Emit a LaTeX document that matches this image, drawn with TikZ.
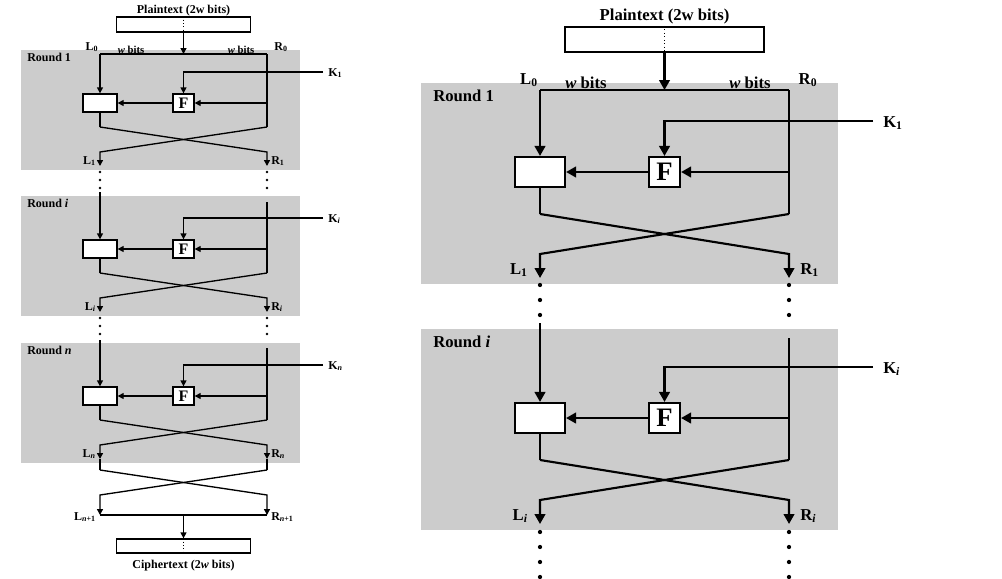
\documentclass[tikz,border=0pt]{standalone}
\usepackage{fontspec}
\setmainfont{Liberation Serif}
\usetikzlibrary{arrows.meta}
\definecolor{roundgray}{RGB}{204,204,204}
\begin{document}
\begin{tikzpicture}[x=0.75pt,y=-0.75pt,
  lline/.style={line width=1pt},
  rline/.style={line width=1.6pt},
  larr/.style={lline,-{Triangle[length=4.5pt,width=4.5pt]}},
  rarr/.style={rline,-{Triangle[length=7.5pt,width=8pt]}},
  lfont/.style={font=\fontsize{9}{10}\selectfont\bfseries,inner sep=0pt},
  lsmall/.style={font=\fontsize{8}{9}\selectfont\bfseries,inner sep=0pt},
  rfont/.style={font=\fontsize{12.5}{14}\selectfont\bfseries,inner sep=0pt},
  lbox/.style={draw,lline,fill=white,inner sep=0pt},
  rbox/.style={draw,rline,fill=white,inner sep=0pt},
  ldot/.style={fill,circle,inner sep=0pt,minimum size=2.2pt},
  rdot/.style={fill,circle,inner sep=0pt,minimum size=3.2pt},
  bgrect/.style={fill=roundgray,draw=none}
]
\useasboundingbox (0,0) rectangle (1002,578);

% ================= LEFT FIGURE =================
\node[lfont] (lpt) at (183.5,11) {Plaintext (2w bits)};
\node[lbox,minimum width=100.5pt,minimum height=11.25pt] (lpbox) at (183.5,24.5) {};
\draw[dotted,line width=0.5pt] (lpbox.north) -- (lpbox.south);

\foreach \r/\T/\s in {1/50/1,i/196/\itshape i,n/343/\itshape n}{
  \fill[bgrect] (21,\T) rectangle (300,\T+119.5);
  \node[lfont,anchor=west] (lrl\r) at (27,\T+7) {Round \s};
  \node[lbox,minimum width=25.5pt,minimum height=13.5pt] (lx\r) at (100,\T+53) {};
  \node[lbox,minimum width=15.75pt,minimum height=13.5pt,font=\fontsize{12}{12}\selectfont\bfseries] (lf\r) at (183.5,\T+53) {F};
  \coordinate (lk\r) at (323,\T+22);
  \node[lfont,anchor=west] (lK\r) at (328,\T+23) {K\textsubscript{\s}};
  \coordinate (lb\r) at (267,\T+53);
  \coordinate (lcL\r) at (100,\T+77);
  \coordinate (lcR\r) at (267,\T+77);
  \coordinate (ldL\r) at (100,\T+102);
  \coordinate (ldR\r) at (267,\T+102);
  \coordinate (leL\r) at (100,\T+116);
  \coordinate (leR\r) at (267,\T+116);
  \draw[larr] (lk\r) -| (lf\r.north);
  \draw[larr] (lb\r) -- (lf\r.east);
  \draw[larr] (lf\r.west) -- (lx\r.east);
  \draw[lline] (lx\r.south) -- (lcL\r);
  \draw[larr] (lcL\r) -- (ldR\r) -- (leR\r);
  \draw[larr] (lcR\r) -- (ldL\r) -- (leL\r);
  \node[lfont,anchor=east] (lLo\r) at (96,\T+111) {L\textsubscript{\s}};
  \node[lfont,anchor=west] (lRo\r) at (271,\T+111) {R\textsubscript{\s}};
}

% round 1 inputs
\coordinate (ltL) at (100,54);
\coordinate (ltM) at (183.5,54);
\coordinate (ltR) at (267,54);
\draw[lline] (ltL) -- (ltR);
\draw[larr] (lpbox.south) -- (ltM);
\draw[larr] (ltL) -- (lx1.north);
\draw[lline] (ltR) -- (lcR1);
\node[lfont] (lL0) at (92,47) {L\textsubscript{0}};
\node[lfont] (lR0) at (281,47) {R\textsubscript{0}};
\node[lsmall] (lw1) at (131,49.5) {\textit{w} bits};
\node[lsmall] (lw2) at (241,49.5) {\textit{w} bits};

% dots after round 1 and round i
\foreach \r/\T in {1/50,i/196}{
  \foreach \k/\dy in {1/122,2/130,3/138}{
    \node[ldot] (ldl\r\k) at (100,\T+\dy) {};
    \node[ldot] (ldr\r\k) at (267,\T+\dy) {};
  }
}

% round i, n inputs
\coordinate (lsLi) at (100,192);
\coordinate (lsRi) at (267,202);
\draw[larr] (lsLi) -- (lxi.north);
\draw[lline] (lsRi) -- (lcRi);
\coordinate (lsLn) at (100,340);
\coordinate (lsRn) at (267,348);
\draw[larr] (lsLn) -- (lxn.north);
\draw[lline] (lsRn) -- (lcRn);

% after round n
\coordinate (lgL) at (100,470);
\coordinate (lgR) at (267,470);
\coordinate (lhL) at (100,495);
\coordinate (lhR) at (267,495);
\coordinate (ljL) at (100,515);
\coordinate (ljM) at (183.5,515);
\coordinate (ljR) at (267,515);
\draw[lline] (leLn) -- (lgL);
\draw[lline] (leRn) -- (lgR);
\draw[larr] (lgL) -- (lhR) -- (ljR);
\draw[larr] (lgR) -- (lhL) -- (ljL);
\draw[lline] (ljL) -- (ljR);
\node[lfont,anchor=east] (lLn1) at (96,517) {L\textsubscript{\itshape n\upshape+1}};
\node[lfont,anchor=west] (lRn1) at (271,517) {R\textsubscript{\itshape n\upshape+1}};
\node[lbox,minimum width=100.5pt,minimum height=10.5pt] (lcbox) at (183.5,546) {};
\draw[dotted,line width=0.5pt] (lcbox.north) -- (lcbox.south);
\draw[larr] (ljM) -- (lcbox.north);
\node[lfont] (lct) at (183.5,566) {Ciphertext (2\textit{w} bits)};

% ================= RIGHT FIGURE =================
\node[rfont] (rpt) at (664.5,16) {Plaintext (2w bits)};
\node[rbox,minimum width=149.25pt,minimum height=18.75pt] (rpbox) at (664.5,39.5) {};
\draw[dotted,line width=0.6pt] (rpbox.north) -- (rpbox.south);

\foreach \r/\T/\s in {1/83/1,i/329/\itshape i}{
  \fill[bgrect] (421,\T) rectangle (838,\T+201);
  \node[rfont,anchor=west] (rrl\r) at (433,\T+13) {Round \s};
  \node[rbox,minimum width=37.5pt,minimum height=22.5pt] (rx\r) at (540,\T+89) {};
  \node[rbox,minimum width=23.25pt,minimum height=22.5pt,font=\fontsize{20}{20}\selectfont\bfseries] (rf\r) at (664.5,\T+89) {F};
  \coordinate (rk\r) at (873,\T+38);
  \node[rfont,anchor=west] (rK\r) at (883,\T+40) {K\textsubscript{\s}};
  \coordinate (rb\r) at (789,\T+89);
  \coordinate (rcL\r) at (540,\T+131);
  \coordinate (rcR\r) at (789,\T+131);
  \coordinate (rdL\r) at (540,\T+171);
  \coordinate (rdR\r) at (789,\T+171);
  \coordinate (reL\r) at (540,\T+195);
  \coordinate (reR\r) at (789,\T+195);
  \draw[rarr] (rk\r) -| (rf\r.north);
  \draw[rarr] (rb\r) -- (rf\r.east);
  \draw[rarr] (rf\r.west) -- (rx\r.east);
  \draw[rline] (rx\r.south) -- (rcL\r);
  \draw[rarr] (rcL\r) -- (rdR\r) -- (reR\r);
  \draw[rarr] (rcR\r) -- (rdL\r) -- (reL\r);
  \node[rfont,anchor=east] (rLo\r) at (528,\T+187) {L\textsubscript{\s}};
  \node[rfont,anchor=west] (rRo\r) at (800,\T+187) {R\textsubscript{\s}};
}

\coordinate (rtL) at (540,90);
\coordinate (rtM) at (664.5,90);
\coordinate (rtR) at (789,90);
\draw[rline] (rtL) -- (rtR);
\draw[rarr] (rpbox.south) -- (rtM);
\draw[rarr] (rtL) -- (rx1.north);
\draw[rline] (rtR) -- (rcR1);
\node[rfont] (rL0) at (529,80) {L\textsubscript{0}};
\node[rfont] (rR0) at (808,80) {R\textsubscript{0}};
\node[rfont] (rw1) at (586,83) {\textit{w} bits};
\node[rfont] (rw2) at (750,83) {\textit{w} bits};

\foreach \k/\y in {1/285,2/300,3/315,4/532,5/547,6/562,7/577}{
  \node[rdot] (rdl\k) at (540,\y) {};
  \node[rdot] (rdr\k) at (789,\y) {};
}

\coordinate (rsLi) at (540,323);
\coordinate (rsRi) at (789,338);
\draw[rarr] (rsLi) -- (rxi.north);
\draw[rline] (rsRi) -- (rcRi);
\end{tikzpicture}
\end{document}
